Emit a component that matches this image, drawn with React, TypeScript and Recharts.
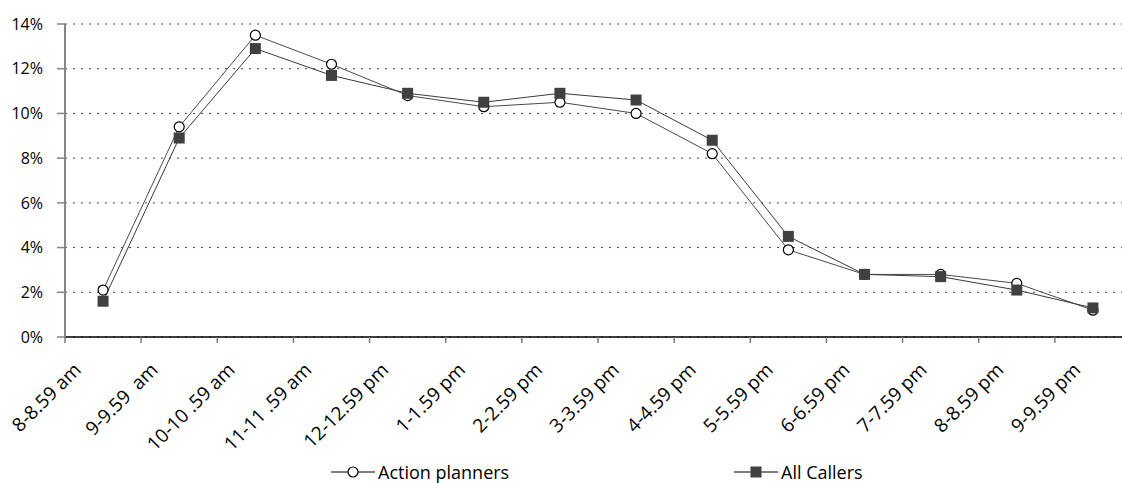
import { LineChart, Line, XAxis, YAxis, CartesianGrid } from "recharts";

// hourly share of calls, in percent
const slots = [
  "8-8.59 am",
  "9-9.59  am",
  "10-10 .59 am",
  "11-11 .59 am",
  "12-12.59 pm",
  "1-1.59 pm",
  "2-2.59 pm",
  "3-3.59 pm",
  "4-4.59 pm",
  "5-5.59 pm",
  "6-6.59 pm",
  "7-7.59 pm",
  "8-8.59 pm",
  "9-9.59 pm",
];
const actionPlanners = [2.1, 9.4, 13.5, 12.2, 10.8, 10.3, 10.5, 10.0, 8.2, 3.9, 2.8, 2.8, 2.4, 1.2];
const allCallers = [1.6, 8.9, 12.9, 11.7, 10.9, 10.5, 10.9, 10.6, 8.8, 4.5, 2.8, 2.7, 2.1, 1.3];
const yTicks = [0, 2, 4, 6, 8, 10, 12, 14];

const data = slots.map((slot, i) => ({
  slot,
  actionPlanners: actionPlanners[i],
  allCallers: allCallers[i],
}));

const FONT = "'Open Sans', sans-serif";
const CHART_W = 1140;
const CHART_H = 483;
const Y_AXIS_W = 65;
const RIGHT = 9;
const BAND = (CHART_W - Y_AXIS_W - RIGHT) / slots.length;

// rotated category label, its end sitting just left of the band centre
const SlotTick = (props: any) => {
  const { x, y, payload, index } = props;
  const tx = x - 21 + 0.75 * index;
  const ty = y + 34;
  return (
    <g>
      <line x1={x - BAND / 2} x2={x - BAND / 2} y1={y} y2={y + 6} stroke="#7a7a7a" strokeWidth={1.5} />
      <text
        x={tx}
        y={ty}
        textAnchor="end"
        transform={`rotate(-45, ${tx}, ${ty})`}
        fontSize={19}
        fontFamily={FONT}
        fill="#000"
        style={{ whiteSpace: "pre" }}
      >
        {payload.value}
      </text>
    </g>
  );
};

const SquareDot = (props: any) => {
  const { cx, cy, index } = props;
  if (cx == null || cy == null) return null;
  return <rect key={`sq-${index}`} x={cx - 5.5} y={cy - 5.5} width={11} height={11} fill="#404040" />;
};

const LegendItem = ({ label, square }: { label: string; square?: boolean }) => (
  <div style={{ display: "flex", alignItems: "center" }}>
    <svg width={44} height={14}>
      <line x1={0} x2={44} y1={7} y2={7} stroke="#555" strokeWidth={1.5} />
      {square ? (
        <rect x={16.5} y={1.5} width={11} height={11} fill="#404040" />
      ) : (
        <circle cx={22} cy={7} r={5} fill="#fff" stroke="#000" strokeWidth={1.2} />
      )}
    </svg>
    <span style={{ marginLeft: 3, fontSize: 18, fontFamily: FONT, color: "#000", lineHeight: "20px" }}>{label}</span>
  </div>
);

export default function App() {
  return (
    <div
      style={{
        position: "fixed",
        left: 0,
        top: 0,
        width: 1122,
        height: 483,
        overflow: "hidden",
        background: "#fff",
      }}
    >
      <LineChart width={CHART_W} height={CHART_H} data={data} margin={{ top: 24, right: RIGHT, left: 0, bottom: 46 }}>
        <CartesianGrid horizontal vertical={false} stroke="#444" strokeDasharray="2 6" />
        <XAxis
          dataKey="slot"
          scale="band"
          interval={0}
          height={100}
          tickSize={0}
          tickMargin={0}
          tickLine={false}
          axisLine={{ stroke: "#000", strokeWidth: 1.5 }}
          tick={<SlotTick />}
        />
        <YAxis
          width={Y_AXIS_W}
          type="number"
          domain={[0, 14]}
          ticks={yTicks}
          interval={0}
          tickFormatter={(v) => `${v}%`}
          tickSize={8}
          tickMargin={14}
          axisLine={{ stroke: "#858585", strokeWidth: 2 }}
          tickLine={{ stroke: "#858585", strokeWidth: 1.5 }}
          tick={{ fill: "#000", fontSize: 16, fontFamily: FONT }}
        />
        <Line
          dataKey="actionPlanners"
          stroke="#4a4a4a"
          strokeWidth={1}
          isAnimationActive={false}
          dot={{ r: 5, fill: "#fff", stroke: "#000", strokeWidth: 1.2 }}
          activeDot={false}
        />
        <Line
          dataKey="allCallers"
          stroke="#3a3a3a"
          strokeWidth={1}
          isAnimationActive={false}
          dot={<SquareDot />}
          activeDot={false}
        />
      </LineChart>
      <div style={{ position: "absolute", left: 331, top: 462, display: "flex" }}>
        <LegendItem label="Action planners" />
      </div>
      <div style={{ position: "absolute", left: 734, top: 462, display: "flex" }}>
        <LegendItem label="All Callers" square />
      </div>
    </div>
  );
}
